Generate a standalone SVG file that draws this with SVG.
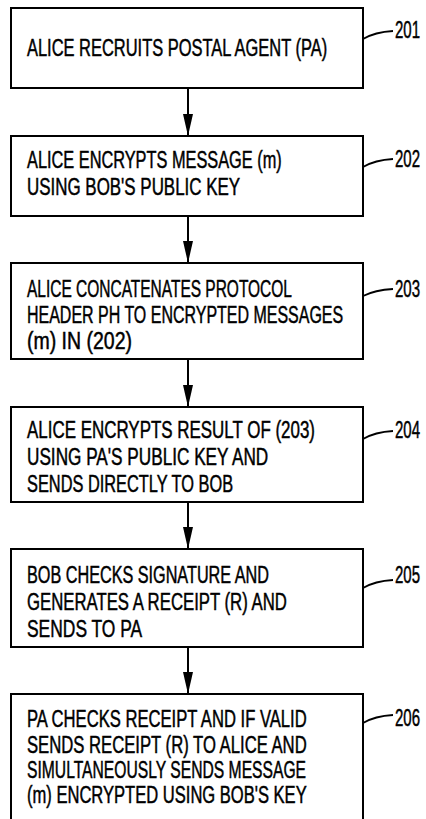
<svg xmlns="http://www.w3.org/2000/svg" width="426" height="819" viewBox="0 0 426 819">
<style>
  .box{fill:#fff;stroke:#000;stroke-width:2}
  .t,.lbl{font-family:"Liberation Sans",Arial,sans-serif;font-size:24.5px;fill:#000;stroke:#000;stroke-width:0.5}
  .lead{fill:none;stroke:#000;stroke-width:1.8}
  .conn{stroke:#000;stroke-width:2;fill:none}
</style>
<defs>
  <marker id="ah" viewBox="0 0 22 10" markerWidth="22" markerHeight="10" refX="22" refY="5" orient="auto" markerUnits="userSpaceOnUse">
    <path d="M0,0 L22,5 L0,10 Z" fill="#000"/>
  </marker>
</defs>
<rect width="426" height="819" fill="#fff"/>

<g id="connectors">
  <line class="conn" x1="188" y1="88" x2="188" y2="136" marker-end="url(#ah)"/>
  <line class="conn" x1="188" y1="216" x2="188" y2="263" marker-end="url(#ah)"/>
  <line class="conn" x1="188" y1="359" x2="188" y2="407" marker-end="url(#ah)"/>
  <line class="conn" x1="188" y1="502" x2="188" y2="549" marker-end="url(#ah)"/>
  <line class="conn" x1="188" y1="647" x2="188" y2="694" marker-end="url(#ah)"/>
</g>

<g id="n201">
  <rect class="box" x="11" y="8" width="352" height="80"/>
  <text class="t" transform="translate(27,56) scale(0.64,1)" textLength="469" lengthAdjust="spacingAndGlyphs">ALICE RECRUITS POSTAL AGENT (PA)</text>
  <path class="lead" d="M363,39 Q375,32 393,31"/>
  <text class="lbl" transform="translate(395,38) scale(0.61,1)" textLength="41" lengthAdjust="spacingAndGlyphs">201</text>
</g>

<g id="n202">
  <rect class="box" x="11" y="136" width="352" height="80"/>
  <text class="t" transform="translate(27,168) scale(0.64,1)" textLength="398" lengthAdjust="spacingAndGlyphs">ALICE ENCRYPTS MESSAGE (m)</text>
  <text class="t" transform="translate(27,195) scale(0.64,1)" textLength="333" lengthAdjust="spacingAndGlyphs">USING BOB'S PUBLIC KEY</text>
  <path class="lead" d="M363,167 Q375,160 393,159"/>
  <text class="lbl" transform="translate(395,167) scale(0.61,1)" textLength="41" lengthAdjust="spacingAndGlyphs">202</text>
</g>

<g id="n203">
  <rect class="box" x="11" y="263" width="352" height="96"/>
  <text class="t" transform="translate(27,297) scale(0.64,1)" textLength="414" lengthAdjust="spacingAndGlyphs">ALICE CONCATENATES PROTOCOL</text>
  <text class="t" transform="translate(27,323) scale(0.64,1)" textLength="494" lengthAdjust="spacingAndGlyphs">HEADER PH TO ENCRYPTED MESSAGES</text>
  <text class="t" transform="translate(27,349) scale(0.64,1)" textLength="164" lengthAdjust="spacingAndGlyphs">(m) IN (202)</text>
  <path class="lead" d="M363,296 Q375,290 393,289"/>
  <text class="lbl" transform="translate(395,297) scale(0.61,1)" textLength="41" lengthAdjust="spacingAndGlyphs">203</text>
</g>

<g id="n204">
  <rect class="box" x="11" y="407" width="352" height="95"/>
  <text class="t" transform="translate(27,438) scale(0.64,1)" textLength="450" lengthAdjust="spacingAndGlyphs">ALICE ENCRYPTS RESULT OF (203)</text>
  <text class="t" transform="translate(27,465) scale(0.64,1)" textLength="377" lengthAdjust="spacingAndGlyphs">USING PA'S PUBLIC KEY AND</text>
  <text class="t" transform="translate(27,492) scale(0.64,1)" textLength="322" lengthAdjust="spacingAndGlyphs">SENDS DIRECTLY TO BOB</text>
  <path class="lead" d="M363,439 Q375,432 393,431"/>
  <text class="lbl" transform="translate(395,438) scale(0.61,1)" textLength="41" lengthAdjust="spacingAndGlyphs">204</text>
</g>

<g id="n205">
  <rect class="box" x="11" y="549" width="352" height="98"/>
  <text class="t" transform="translate(27,583) scale(0.64,1)" textLength="378" lengthAdjust="spacingAndGlyphs">BOB CHECKS SIGNATURE AND</text>
  <text class="t" transform="translate(27,610) scale(0.64,1)" textLength="406" lengthAdjust="spacingAndGlyphs">GENERATES A RECEIPT (R) AND</text>
  <text class="t" transform="translate(27,637) scale(0.64,1)" textLength="180" lengthAdjust="spacingAndGlyphs">SENDS TO PA</text>
  <path class="lead" d="M363,588 Q375,581 393,580"/>
  <text class="lbl" transform="translate(395,583) scale(0.61,1)" textLength="41" lengthAdjust="spacingAndGlyphs">205</text>
</g>

<g id="n206">
  <rect class="box" x="11" y="694" width="352" height="140"/>
  <text class="t" transform="translate(27,727) scale(0.64,1)" textLength="437" lengthAdjust="spacingAndGlyphs">PA CHECKS RECEIPT AND IF VALID</text>
  <text class="t" transform="translate(27,753) scale(0.64,1)" textLength="437" lengthAdjust="spacingAndGlyphs">SENDS RECEIPT (R) TO ALICE AND</text>
  <text class="t" transform="translate(27,778) scale(0.64,1)" textLength="436" lengthAdjust="spacingAndGlyphs">SIMULTANEOUSLY SENDS MESSAGE</text>
  <text class="t" transform="translate(27,803) scale(0.64,1)" textLength="437" lengthAdjust="spacingAndGlyphs">(m) ENCRYPTED USING BOB'S KEY</text>
  <path class="lead" d="M363,723 Q375,716 393,715"/>
  <text class="lbl" transform="translate(395,726) scale(0.61,1)" textLength="41" lengthAdjust="spacingAndGlyphs">206</text>
</g>
</svg>
